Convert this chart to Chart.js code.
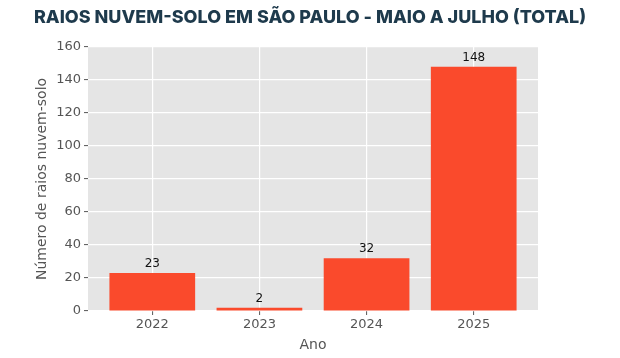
<!DOCTYPE html>
<html><head><meta charset="utf-8">
<script src="https://cdn.jsdelivr.net/npm/chart.js@4.4.1/dist/chart.umd.min.js"></script>
<style>html,body{margin:0;padding:0;background:#fff}#wrap{width:620px;height:358px;position:relative}</style>
</head><body><div id="wrap"><canvas id="c" width="620" height="358"></canvas></div>
<script>
const TITLE = "RAIOS NUVEM-SOLO EM SÃO PAULO - MAIO A JULHO (TOTAL)";
const years = [2022, 2023, 2024, 2025];
const counts = [23, 2, 32, 148];
const yTicks = [0, 20, 40, 60, 80, 100, 120, 140, 160];
const xLabel = "Ano";
const yLabel = "Número de raios nuvem-solo";

const bgPlugin = {
  id: 'bg',
  beforeDraw(chart) {
    const {ctx, chartArea: a} = chart;
    ctx.save();
    ctx.fillStyle = '#e5e5e5';
    ctx.fillRect(a.left, a.top, a.right - a.left, a.bottom - a.top);
    ctx.restore();
  },
  afterDraw(chart) {
    const ctx = chart.ctx;
    ctx.save();
    ctx.font = '800 18px Inter';
    ctx.fillStyle = '#1e3a4c';
    ctx.textAlign = 'center';
    ctx.textBaseline = 'middle';
    ctx.fillText(TITLE, 310, 18);
    const meta = chart.getDatasetMeta(0);
    ctx.font = '12px "DejaVu Sans"';
    ctx.fillStyle = '#111';
    ctx.textBaseline = 'bottom';
    meta.data.forEach((el, i) => {
      ctx.fillText(String(counts[i]), el.x, el.y - 3);
    });
    ctx.restore();
  }
};

new Chart(document.getElementById('c'), {
  type: 'bar',
  data: {
    datasets: [{
      data: years.map((y, i) => ({x: y, y: counts[i]})),
      backgroundColor: '#fa4a2c',
      borderWidth: 0,
      categoryPercentage: 1,
      barPercentage: 0.8
    }]
  },
  options: {
    responsive: false,
    animation: false,
    layout: {padding: {top: 47, right: 82, left: 0, bottom: 0}},
    plugins: {legend: {display: false}, tooltip: {enabled: false}, title: {display: false}},
    scales: {
      x: {
        type: 'linear',
        offset: false,
        min: years[0] - 0.6,
        max: years[years.length - 1] + 0.6,
        afterBuildTicks: s => { s.ticks = years.map(v => ({value: v})); },
        afterFit: s => { s.height = 47; },
        ticks: {callback: v => String(v), color: '#555', font: {family: 'DejaVu Sans', size: 13}, padding: 2, maxRotation: 0},
        grid: {offset: false, color: '#ffffff', lineWidth: 1.2, drawTicks: true, tickLength: 4, tickColor: '#555', tickWidth: 1},
        border: {display: false},
        title: {display: true, text: xLabel, color: '#555', font: {family: 'DejaVu Sans', size: 14}, padding: {top: 0, bottom: 4}}
      },
      y: {
        min: 0, max: 160,
        afterBuildTicks: s => { s.ticks = yTicks.map(v => ({value: v})); },
        afterFit: s => { s.width = 88; },
        ticks: {color: '#555', font: {family: 'DejaVu Sans', size: 13}, padding: 3},
        grid: {color: '#ffffff', lineWidth: 1.2, drawTicks: true, tickLength: 4, tickColor: '#555', tickWidth: 1},
        border: {display: false},
        title: {display: true, text: yLabel, color: '#555', font: {family: 'DejaVu Sans', size: 14}, padding: {top: 34, bottom: 0}}
      }
    }
  },
  plugins: [bgPlugin]
});
</script></body></html>
